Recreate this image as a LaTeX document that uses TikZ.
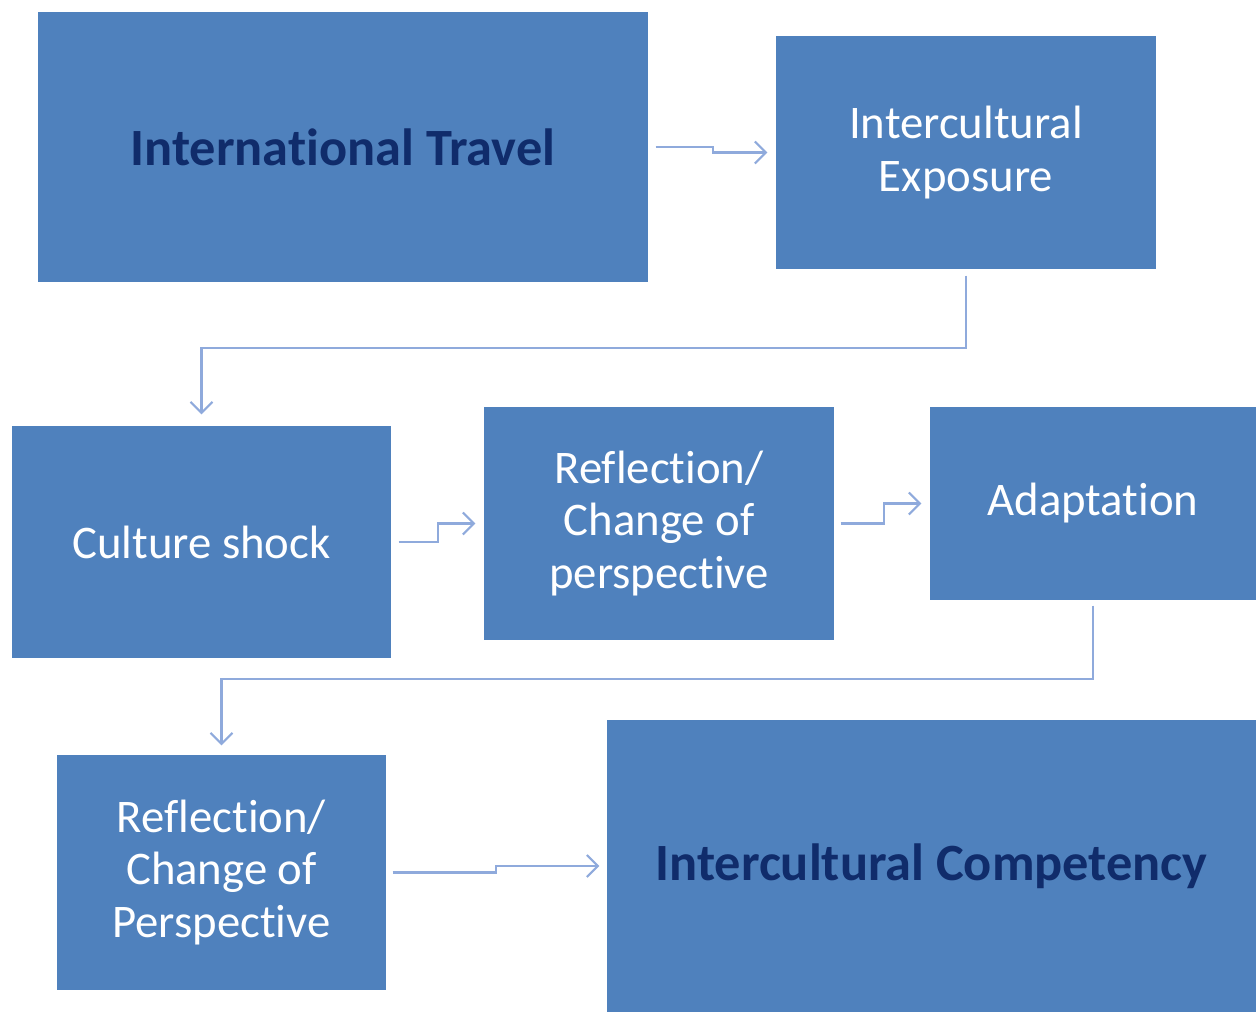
\documentclass[tikz,border=0pt]{standalone}
\usepackage{fontspec}
\setmainfont{Carlito}[Ligatures={NoCommon}]
\usetikzlibrary{arrows.meta,positioning}
\definecolor{boxblue}{HTML}{4F81BD}
\definecolor{navytext}{HTML}{102C6B}
\definecolor{linkblue}{HTML}{8FAADC}
\tikzset{
  stage/.style={fill=boxblue, draw=none, inner sep=0pt, align=center, text=white, font=\fontsize{13.3}{15}\selectfont},
  keystage/.style={stage, text=navytext, font=\fontsize{14.9}{17}\selectfont\bfseries},
  link/.style={draw=linkblue, line width=0.6pt, -{Straight Barb[length=1.1mm,width=2.2mm]}}
}
\begin{document}
\begin{tikzpicture}
\useasboundingbox (0,0) rectangle (12.56,-10.12);

\node[keystage, minimum width=6.10cm, minimum height=2.70cm] (travel) at (3.43,-1.47) {International Travel};
\node[stage, minimum width=3.80cm, minimum height=2.33cm] (exposure) at (9.66,-1.525) {Intercultural\\Exposure};

\node[stage, minimum width=3.79cm, minimum height=2.32cm] (shock) at (2.015,-5.42) {Culture shock};
\node[stage, minimum width=3.50cm, minimum height=2.33cm] (reflect) at (6.59,-5.235) {Reflection/\\Change of\\perspective};
\node[stage, minimum width=3.26cm, minimum height=1.93cm] (adapt) at (10.93,-5.035) {Adaptation};

\node[stage, minimum width=3.29cm, minimum height=2.35cm] (reflectb) at (2.215,-8.725) {Reflection/\\Change of\\Perspective};
\node[keystage, minimum width=6.49cm, minimum height=2.92cm] (compet) at (9.315,-8.66) {Intercultural Competency};

% steps between the stages
\draw[link, shorten <=0.07cm, shorten >=0.08cm] (travel.east) -- ++(0.64,0) |- (exposure.west);
\draw[link, shorten <=0.06cm, shorten >=0.11cm] (exposure.south) -- ++(0,-0.78) -| (shock.north);
\draw[link, shorten <=0.07cm, shorten >=0.08cm] (shock.east) -- ++(0.46,0) |- (reflect.west);
\draw[link, shorten <=0.06cm, shorten >=0.08cm] (reflect.east) -- ++(0.49,0) |- (adapt.west);
\draw[link, shorten <=0.05cm, shorten >=0.09cm] (adapt.south) -- ++(0,-0.78) -| (reflectb.north);
\draw[link, shorten <=0.06cm, shorten >=0.07cm] (reflectb.east) -- ++(1.09,0) |- (compet.west);
\end{tikzpicture}
\end{document}
